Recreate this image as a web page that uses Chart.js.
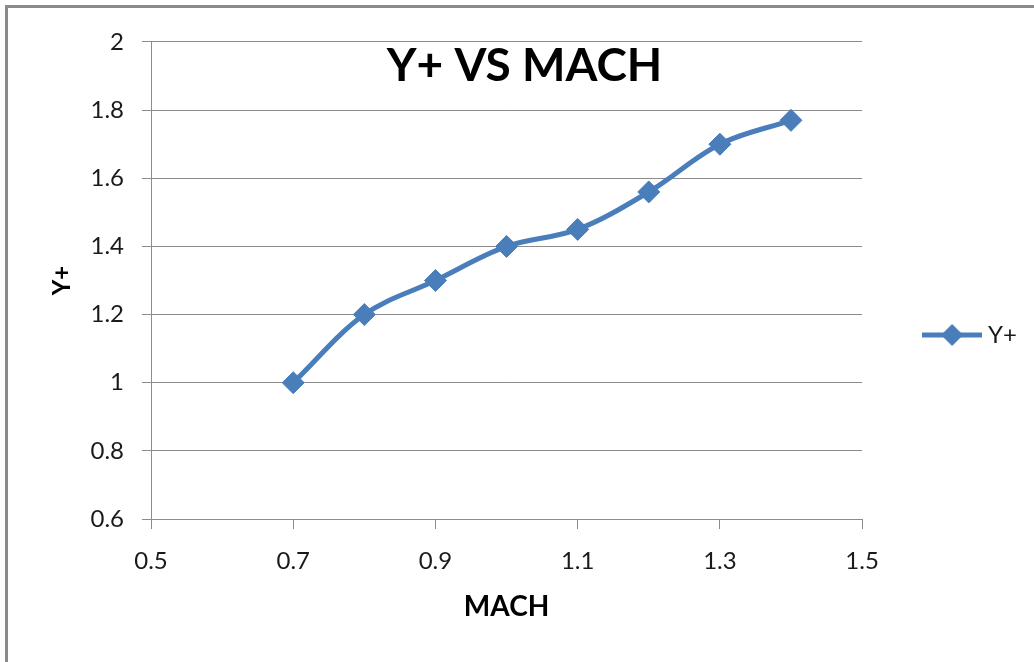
<!DOCTYPE html>
<html>
<head>
<meta charset="utf-8">
<script src="https://cdn.jsdelivr.net/npm/chart.js@4.4.1/dist/chart.umd.min.js"></script>
<style>
  html, body { margin: 0; padding: 0; background: #fff; overflow: hidden; }
  #frame {
    position: absolute; left: 5px; top: 5px;
    border-left: 3px solid #8a8a8a; border-top: 3px solid #8a8a8a;
    width: 1034px; height: 654px;
  }
  #frame canvas { display: block; }
</style>
</head>
<body>
<div id="frame"><canvas id="chart"></canvas></div>
<script>
const machValues = [0.7, 0.8, 0.9, 1.0, 1.1, 1.2, 1.3, 1.4];
const yPlusValues = [1.0, 1.2, 1.3, 1.4, 1.45, 1.56, 1.70, 1.77];
const xTickValues = [0.5, 0.7, 0.9, 1.1, 1.3, 1.5];
const yTickValues = [0.6, 0.8, 1.0, 1.2, 1.4, 1.6, 1.8, 2.0];

const blue = '#4a7ebb';
const gridGray = '#8c8c8c';
const fontFamily = 'Lato, "Open Sans", sans-serif';

// legend icon: line with a diamond in the middle
function makeLegendIcon() {
    const c = document.createElement('canvas');
    c.width = 60; c.height = 24;
    const g = c.getContext('2d');
    g.strokeStyle = blue;
    g.lineWidth = 5;
    g.beginPath(); g.moveTo(0, 12); g.lineTo(60, 12); g.stroke();
    g.fillStyle = blue;
    g.beginPath();
    g.moveTo(30, 1); g.lineTo(41, 12); g.lineTo(30, 23); g.lineTo(19, 12);
    g.closePath(); g.fill();
    return c;
}

const fmt = v => String(+v.toFixed(1));

new Chart(document.getElementById('chart'), {
    type: 'line',
    data: {
        datasets: [{
            label: 'Y+',
            data: machValues.map((x, i) => ({x: x, y: yPlusValues[i]})),
            borderColor: blue,
            backgroundColor: blue,
            borderWidth: 5,
            tension: 0.35,
            pointStyle: 'rectRot',
            pointRadius: 11,
            pointBorderWidth: 1,
            pointBackgroundColor: blue,
            pointBorderColor: blue,
        }]
    },
    options: {
        responsive: true,
        maintainAspectRatio: false,
        animation: false,
        layout: { padding: { left: 14, top: 0, bottom: 0, right: 15 } },
        plugins: {
            title: {
                display: true,
                text: 'Y+ VS MACH',
                color: '#000',
                font: { family: fontFamily, size: 46, weight: 'bold', lineHeight: 1.2 },
                padding: { top: 31, bottom: -52.2 }
            },
            legend: {
                position: 'right',
                align: 'center',
                labels: {
                    usePointStyle: true,
                    pointStyle: makeLegendIcon(),
                    pointStyleWidth: 48,
                    boxWidth: 48,
                    padding: 66,
                    color: '#1a1a1a',
                    font: { family: fontFamily, size: 24 }
                }
            },
            tooltip: { enabled: false }
        },
        scales: {
            x: {
                type: 'linear',
                min: xTickValues[0],
                max: xTickValues[xTickValues.length - 1],
                afterBuildTicks: s => { s.ticks = xTickValues.map(v => ({value: v})); },
                afterFit: s => { s.height = 143; },
                grid: { drawOnChartArea: false, drawTicks: true, tickLength: 10, color: gridGray },
                border: { color: gridGray },
                ticks: {
                    padding: 18,
                    color: '#1a1a1a',
                    font: { family: fontFamily, size: 24 },
                    callback: fmt
                },
                title: {
                    display: true,
                    text: 'MACH',
                    color: '#000',
                    font: { family: fontFamily, size: 28, weight: 'bold' },
                    padding: { top: 0, bottom: 38 }
                }
            },
            y: {
                min: yTickValues[0],
                max: yTickValues[yTickValues.length - 1],
                afterBuildTicks: s => { s.ticks = yTickValues.map(v => ({value: v})); },
                afterFit: s => { s.width = 129; },
                grid: { color: gridGray, tickLength: 9 },
                border: { color: gridGray },
                ticks: {
                    padding: 18,
                    color: '#1a1a1a',
                    font: { family: fontFamily, size: 24 },
                    callback: fmt
                },
                title: {
                    display: true,
                    text: 'Y+',
                    color: '#000',
                    font: { family: fontFamily, size: 24, weight: 'bold' },
                    padding: { top: 26, bottom: 0 }
                }
            }
        }
    }
});
</script>
</body>
</html>
